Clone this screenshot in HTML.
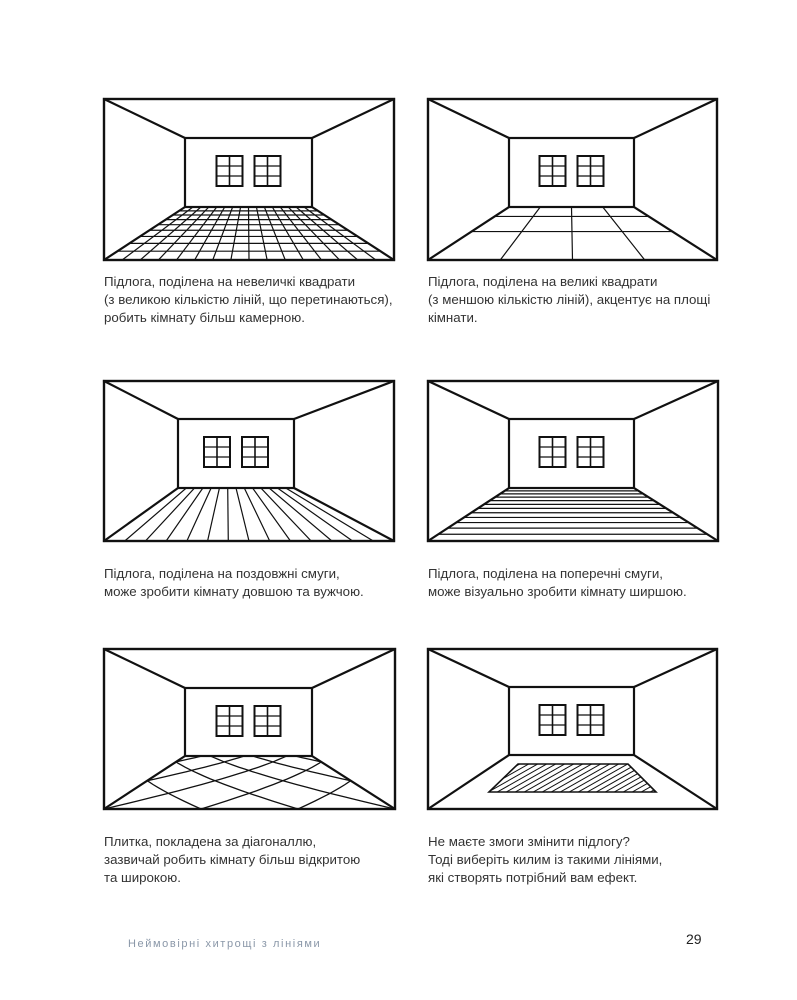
<!DOCTYPE html>
<html><head><meta charset="utf-8"><style>
html,body{margin:0;padding:0;background:#fff;}
body{width:797px;height:1000px;position:relative;overflow:hidden;font-family:"Liberation Sans",sans-serif;}
.t{position:absolute;font-size:13.3px;line-height:18px;color:#333;}
svg{position:absolute;left:0;top:0;}
</style></head><body>
<svg id="s" width="797" height="1000" xmlns="http://www.w3.org/2000/svg"></svg>
<div class="t" style="left:104px;top:273px">Підлога, поділена на невеличкі квадрати<br>(з великою кількістю ліній, що перетинаються),<br>робить кімнату більш камерною.</div>
<div class="t" style="left:428px;top:273px">Підлога, поділена на великі квадрати<br>(з меншою кількістю ліній), акцентує на площі<br>кімнати.</div>
<div class="t" style="left:104px;top:565px">Підлога, поділена на поздовжні смуги,<br>може зробити кімнату довшою та вужчою.</div>
<div class="t" style="left:428px;top:565px">Підлога, поділена на поперечні смуги,<br>може візуально зробити кімнату ширшою.</div>
<div class="t" style="left:104px;top:833px">Плитка, покладена за діагоналлю,<br>зазвичай робить кімнату більш відкритою<br>та широкою.</div>
<div class="t" style="left:428px;top:833px">Не маєте змоги змінити підлогу?<br>Тоді виберіть килим із такими лініями,<br>які створять потрібний вам ефект.</div>
<div style="position:absolute;left:128px;top:938px;font-size:11px;letter-spacing:1.6px;color:#8a97a8;">Неймовірні хитрощі з лініями</div>
<div style="position:absolute;left:686px;top:931px;font-size:14px;color:#222;">29</div>
<script>
var s=document.getElementById('s'),h='',cid=0;
function L(a,b,c,d,w){h+='<line x1="'+a+'" y1="'+b+'" x2="'+c+'" y2="'+d+'" stroke="#111" stroke-width="'+w+'" stroke-linecap="round"/>';}
function room(ox,oy,ow,oh,ix,iy,iw,ih,type){
 var xL=ox,xR=ox+ow,yB=oy+oh,iL=ix,iR=ix+iw,iB=iy+ih,k=ow/iw;
 var kk=(type=='big')?k:1.6;
 function P(sx,z){var t=(1-1/z)/(1-1/kk);var l=xL+(iL-xL)*t,r=xR+(iR-xR)*t;return[l+(r-l)*sx,yB+(iB-yB)*t];}
 cid++;
 h+='<clipPath id="c'+cid+'"><polygon points="'+xL+','+yB+' '+xR+','+yB+' '+iR+','+iB+' '+iL+','+iB+'"/></clipPath><g clip-path="url(#c'+cid+')">';
 var i,a,b,w=1.2;
 if(type=='grid'||type=='big'||type=='long'){var N=type=='grid'?16:type=='big'?4:14;for(i=1;i<N;i++){a=P(i/N,1);b=P(i/N,kk);L(a[0],a[1],b[0],b[1],w);}}
 if(type=='grid'||type=='big'||type=='trans'){var M=type=='grid'?9:type=='big'?3:12;for(i=1;i<M;i++){a=P(0,1+(kk-1)*i/M);b=P(1,1+(kk-1)*i/M);L(a[0],a[1],b[0],b[1],w);}}
 if(type=='diag'){var c,sg,A=0.8/(kk-1);for(sg=-1;sg<=1;sg+=2)for(c=-3;c<=4;c+=1/3){var pts=[];for(var z=1;z<=kk+0.001;z+=(kk-1)/20){var sx=c+sg*A*(z-1);var p=P(sx,z);pts.push(p[0].toFixed(1)+','+p[1].toFixed(1));}h+='<polyline points="'+pts.join(' ')+'" fill="none" stroke="#111" stroke-width="1.3"/>';}}
 h+='</g>';
 if(type=='rug'){
  h+='<clipPath id="r'+cid+'"><polygon points="518,764 628,764 656,792 489,792"/></clipPath><g clip-path="url(#r'+cid+')">';
  for(i=-60;i<200;i+=9){L(489+i,795,489+i+60,761,1);}
  h+='</g><polygon points="518,764 628,764 656,792 489,792" fill="none" stroke="#111" stroke-width="1.6"/>';}
 h+='<rect x="'+ox+'" y="'+oy+'" width="'+ow+'" height="'+oh+'" fill="none" stroke="#111" stroke-width="2.4"/>';
 h+='<rect x="'+ix+'" y="'+iy+'" width="'+iw+'" height="'+ih+'" fill="none" stroke="#111" stroke-width="2.2"/>';
 L(xL,oy,iL,iy,2.2);L(xR,oy,iR,iy,2.2);L(xL,yB,iL,iB,2.2);L(xR,yB,iR,iB,2.2);
 var cx=ix+iw/2,wy=iy+18,ww=26,wh=30;
 [cx-ww-6,cx+6].forEach(function(x){h+='<rect x="'+x+'" y="'+wy+'" width="'+ww+'" height="'+wh+'" fill="none" stroke="#111" stroke-width="2"/>';L(x+ww/2,wy,x+ww/2,wy+wh,1.6);L(x,wy+wh/3,x+ww,wy+wh/3,1.3);L(x,wy+2*wh/3,x+ww,wy+2*wh/3,1.3);});
}
room(104,99,290,161,185,138,127,69,'grid');
room(428,99,289,161,509,138,125,69,'big');
room(104,381,290,160,178,419,116,69,'long');
room(428,381,290,160,509,419,125,69,'trans');
room(104,649,291,160,185,688,127,68,'diag');
room(428,649,289,160,509,687,125,68,'rug');
s.innerHTML=h;
</script>
</body></html>
